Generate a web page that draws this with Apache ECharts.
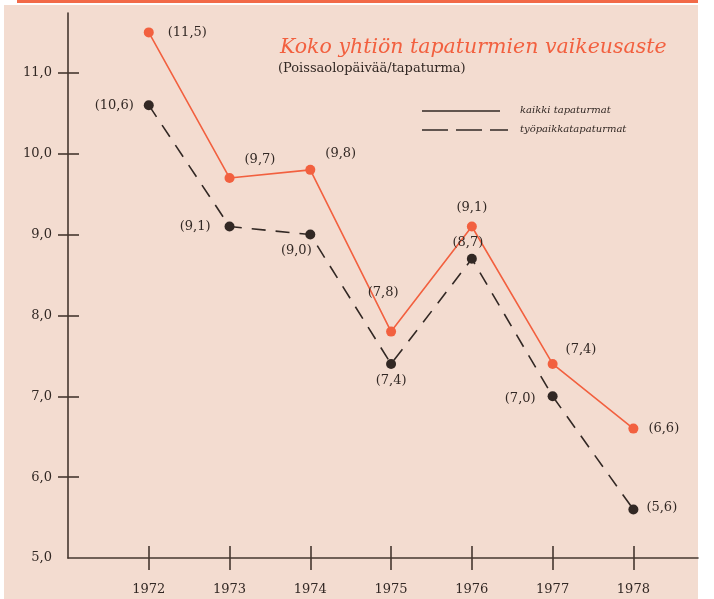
<!DOCTYPE html>
<html>
<head>
<meta charset="utf-8">
<script src="https://cdn.jsdelivr.net/npm/echarts@6/dist/echarts.min.js"></script>
<style>
html,body{margin:0;padding:0;background:#ffffff;}
#chart{width:714px;height:599px;}
</style>
</head>
<body>
<div id="chart"></div>
<script>
// ---- data ----
var years = [1972, 1973, 1974, 1975, 1976, 1977, 1978];
var kaikki = [11.5, 9.7, 9.8, 7.8, 9.1, 7.4, 6.6];          // kaikki tapaturmat
var tyopaikka = [10.6, 9.1, 9.0, 7.4, 8.7, 7.0, 5.6];      // työpaikkatapaturmat
var yTickValues = [5, 6, 7, 8, 9, 10, 11];
var yCrossTicks = [6, 7, 8, 9, 10, 11];
var titleText = 'Koko yhtiön tapaturmien vaikeusaste';
var subtitleText = '(Poissaolopäivää/tapaturma)';
var legendNames = ['kaikki tapaturmat', 'työpaikkatapaturmat'];

// ---- label placement (style, not data) ----
var kaikkiLabelPos = [
  {position: 'right', distance: 14, offset: [0, 0]},
  {position: 'right', distance: 10, offset: [0, -18]},
  {position: 'right', distance: 10, offset: [0, -16]},
  {position: 'top', distance: 5, offset: [-8, -22]},
  {position: 'top', distance: 5, offset: [0, -2]},
  {position: 'right', distance: 8, offset: [0, -14]},
  {position: 'right', distance: 10, offset: [0, 0]}
];
var tyoLabelPos = [
  {position: 'left', distance: 10, offset: [0, 0]},
  {position: 'left', distance: 14, offset: [0, 0]},
  {position: 'bottom', distance: 5, offset: [-14, 0]},
  {position: 'bottom', distance: 5, offset: [0, 0]},
  {position: 'top', distance: 5, offset: [-4, 0]},
  {position: 'left', distance: 12, offset: [0, 2]},
  {position: 'right', distance: 8, offset: [0, -2]}
];

var ORANGE = '#f2603f';
var DARK = '#322824';
var AXIS = '#45372f';
var SERIF = '"DejaVu Serif", "Liberation Serif", serif';

function fmt(v) { return v.toFixed(1).replace('.', ','); }

function buildData(vals, posArr) {
  return years.map(function (y, i) {
    var p = posArr[i];
    return {
      value: [y, vals[i]],
      label: {position: p.position, distance: p.distance, offset: p.offset}
    };
  });
}

var labelBase = {
  show: true,
  fontFamily: SERIF,
  fontSize: 13,
  color: DARK,
  formatter: function (p) { return '(' + fmt(p.value[1]) + ')'; }
};

var chart = echarts.init(document.getElementById('chart'), null, {renderer: 'canvas'});

var gridBox = {left: 68, right: 16, top: 13, bottom: 41, containLabel: false};
var xBase = {
  type: 'value', min: 1971, max: 1978.8, interval: 1,
  position: 'bottom', splitLine: {show: false}
};
var yBase = {
  type: 'value', min: 5, max: 11.74, interval: 1,
  position: 'left', splitLine: {show: false}
};

var option = {
  backgroundColor: 'transparent',
  animation: false,
  grid: [Object.assign({}, gridBox), Object.assign({}, gridBox)],
  xAxis: [
    Object.assign({}, xBase, {
      gridIndex: 0,
      axisLine: {show: true, onZero: false, lineStyle: {color: AXIS, width: 1.6}},
      axisTick: {show: true, length: 12, customValues: years, lineStyle: {color: AXIS, width: 1.6}},
      axisLabel: {show: true, customValues: years, margin: 25, fontFamily: SERIF, fontSize: 13,
        color: DARK, formatter: function (v) { return String(v); }}
    }),
    Object.assign({}, xBase, {
      gridIndex: 1,
      axisLine: {show: false, onZero: false},
      axisTick: {show: true, inside: true, length: 12, customValues: years, lineStyle: {color: AXIS, width: 1.6}},
      axisLabel: {show: false}
    })
  ],
  yAxis: [
    Object.assign({}, yBase, {
      gridIndex: 0,
      axisLine: {show: true, onZero: false, lineStyle: {color: AXIS, width: 1.6}},
      axisTick: {show: true, length: 10, customValues: yCrossTicks, lineStyle: {color: AXIS, width: 1.6}},
      axisLabel: {show: true, customValues: yTickValues, margin: 16, fontFamily: SERIF, fontSize: 13,
        color: DARK, formatter: function (v) { return fmt(v); }}
    }),
    Object.assign({}, yBase, {
      gridIndex: 1,
      axisLine: {show: false, onZero: false},
      axisTick: {show: true, inside: true, length: 11, customValues: yCrossTicks, lineStyle: {color: AXIS, width: 1.6}},
      axisLabel: {show: false}
    })
  ],
  graphic: [
    {type: 'rect', z: -100, silent: true, shape: {x: 4, y: 5, width: 694, height: 594},
      style: {fill: '#f3dcd0'}},
    {type: 'rect', z: -99, silent: true, shape: {x: 17, y: 0, width: 681, height: 3},
      style: {fill: '#f26a48'}},
    {type: 'text', left: 280, top: 38, z: 10, style: {text: titleText, fill: ORANGE,
      font: 'italic 20.5px ' + SERIF}},
    {type: 'text', left: 278, top: 62, z: 10, style: {text: subtitleText, fill: DARK,
      font: '13px ' + SERIF}},
    {type: 'line', z: 10, shape: {x1: 422, y1: 111, x2: 500, y2: 111},
      style: {stroke: DARK, lineWidth: 1.5}},
    {type: 'line', z: 10, shape: {x1: 422, y1: 130, x2: 508, y2: 130},
      style: {stroke: DARK, lineWidth: 1.5, lineDash: [26, 8]}},
    {type: 'text', left: 520, top: 105, z: 10, style: {text: legendNames[0], fill: DARK,
      font: 'italic 10px ' + SERIF}},
    {type: 'text', left: 520, top: 124, z: 10, style: {text: legendNames[1], fill: DARK,
      font: 'italic 10px ' + SERIF}}
  ],
  series: [
    {
      name: legendNames[1], type: 'line', xAxisIndex: 0, yAxisIndex: 0,
      data: buildData(tyopaikka, tyoLabelPos),
      symbol: 'circle', symbolSize: 10,
      lineStyle: {color: DARK, width: 1.6, type: [14, 10]},
      itemStyle: {color: DARK},
      label: labelBase
    },
    {
      name: legendNames[0], type: 'line', xAxisIndex: 0, yAxisIndex: 0,
      data: buildData(kaikki, kaikkiLabelPos),
      symbol: 'circle', symbolSize: 10,
      lineStyle: {color: ORANGE, width: 1.6},
      itemStyle: {color: ORANGE},
      label: labelBase
    },
    {
      // invisible helper so the second (tick-only) grid is active
      name: 'axis-helper', type: 'line', xAxisIndex: 1, yAxisIndex: 1, silent: true,
      data: years.map(function (y, i) { return [y, kaikki[i]]; }),
      symbol: 'none', lineStyle: {opacity: 0}, label: {show: false}, tooltip: {show: false}
    }
  ]
};
chart.setOption(option);
</script>
</body>
</html>
